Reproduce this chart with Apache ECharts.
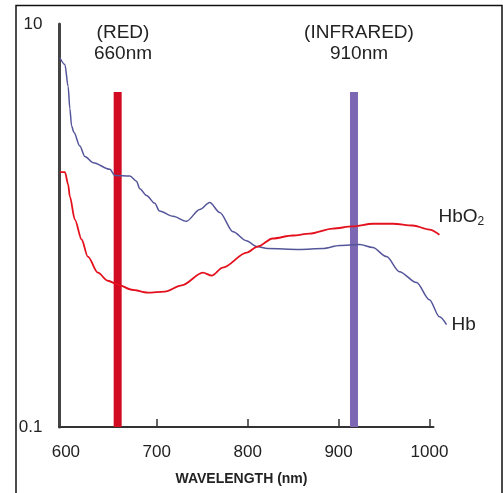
<!DOCTYPE html>
<html><head><meta charset="utf-8">
<script src="https://cdn.jsdelivr.net/npm/echarts@6/dist/echarts.min.js"></script>
<style>html,body{margin:0;padding:0;background:#fff}#c{width:503px;height:493px}</style>
</head><body><div id="c"></div>
<script>
// ---- data ----
const hbWavelength = [593.4, 598.9, 602.5, 604.4, 606.3, 608.8, 615.4, 620.9, 630, 648.4, 653.9, 670.4, 677.7, 681.4, 688.7, 697.8, 703, 717.9, 732.7, 747.3, 758.3, 769.3, 784, 798.6, 810, 822, 857, 882.6, 901.3, 923.3, 937.7, 952.8, 967, 985.8, 1000, 1011, 1018.8];
const hbValues     = [6.8, 6.3, 4.9, 3.8, 3.12, 2.9, 2.48, 2.2, 2.05, 1.9, 1.77, 1.76, 1.66, 1.52, 1.41, 1.29, 1.18, 1.11, 1.05, 1.2, 1.3, 1.16, 0.93, 0.84, 0.786, 0.768, 0.76, 0.768, 0.795, 0.804, 0.777, 0.701, 0.59, 0.521, 0.428, 0.352, 0.322];
const hbo2Wavelength = [593.4, 599, 602.5, 604.4, 609.9, 617.3, 624.2, 635.2, 646.2, 657.2, 672.5, 690.1, 708.8, 727.5, 750.7, 760.5, 772.6, 799, 811, 827.5, 849.5, 868.2, 893.5, 915.5, 937.7, 960, 981.6, 1000, 1011];
const hbo2Values     = [1.84, 1.84, 1.6, 1.39, 1.07, 0.852, 0.70, 0.583, 0.532, 0.509, 0.48, 0.464, 0.47, 0.505, 0.583, 0.564, 0.618, 0.734, 0.786, 0.862, 0.892, 0.912, 0.966, 0.989, 1.02, 1.02, 1.0, 0.955, 0.90];
const xTickLabels = [600, 700, 800, 900, 1000];
const xTickMarks  = [700, 800, 900, 1000];
const yTickLabels = [0.1, 10];
const redBandNm = 657;
const irBandNm  = 917;
const bandExtent = [0.1, 4.6];
const redBandTitle = ['(RED)', '660nm'];
const irBandTitle  = ['(INFRARED)', '910nm'];
const xAxisTitle = 'WAVELENGTH (nm)';
const seriesNames = ['Hb', 'HbO2'];

// ---- chart ----
const FONT = '"Liberation Sans", Arial, sans-serif';
const zip = (xs, ys) => xs.map((x, i) => [x, ys[i]]);
const chart = echarts.init(document.getElementById('c'), null, {renderer: 'canvas'});
const titleStyle = {fontFamily: FONT, fontSize: 19, fontWeight: 'normal', color: '#222', lineHeight: 21};
chart.setOption({
  backgroundColor: '#fff',
  animation: false,
  title: [
    {text: redBandTitle.join('\n'), left: 118, top: 17, textAlign: 'center', textStyle: titleStyle},
    {text: irBandTitle.join('\n'), left: 354, top: 17, textAlign: 'center', textStyle: titleStyle}
  ],
  graphic: [{type: 'rect', shape: {x: 16, y: 5.5, width: 486, height: 520}, style: {fill: 'none', stroke: '#111', lineWidth: 1.5}, silent: true}],
  grid: [
    {left: 59.5, top: 24, width: 374, height: 403},
    {left: 59.5, top: 24, width: 388.1, height: 403}
  ],
  xAxis: [
    {gridIndex: 0, type: 'value', min: 593, max: 1004.4,
     axisLine: {show: true, lineStyle: {color: '#333', width: 2}},
     axisTick: {show: true, inside: true, length: 8, customValues: xTickMarks, lineStyle: {color: '#333', width: 1.5}},
     axisLabel: {customValues: xTickLabels, margin: 17, fontFamily: FONT, fontSize: 17, color: '#222', formatter: v => String(v)},
     splitLine: {show: false},
     name: xAxisTitle, nameLocation: 'middle', nameGap: 45,
     nameTextStyle: {fontFamily: FONT, fontSize: 14, fontWeight: 'bold', color: '#222', padding: [0, 10, 0, 0]}},
    {gridIndex: 1, type: 'value', min: 593, max: 1020, show: false}
  ],
  yAxis: [
    {gridIndex: 0, type: 'log', logBase: 10, min: 0.1, max: 10,
     axisLine: {show: true, lineStyle: {color: '#444', width: 3}},
     axisTick: {show: false},
     axisLabel: {margin: 17, fontFamily: FONT, fontSize: 17, color: '#222',
       formatter: v => yTickLabels.some(t => Math.abs(t - v) < 1e-6) ? String(v) : ''},
     splitLine: {show: false}},
    {gridIndex: 1, type: 'log', logBase: 10, min: 0.1, max: 10, show: false}
  ],
  series: [
    {type: 'line', xAxisIndex: 1, yAxisIndex: 1, data: [[redBandNm, bandExtent[0]], [redBandNm, bandExtent[1]]],
     showSymbol: false, symbol: 'none', lineStyle: {color: '#d20a22', width: 8, cap: 'butt'}, z: 1, silent: true},
    {type: 'line', xAxisIndex: 1, yAxisIndex: 1, data: [[irBandNm, bandExtent[0]], [irBandNm, bandExtent[1]]],
     showSymbol: false, symbol: 'none', lineStyle: {color: '#7c68b2', width: 8, cap: 'butt'}, z: 1, silent: true},
    {name: seriesNames[0], type: 'line', xAxisIndex: 1, yAxisIndex: 1, data: zip(hbWavelength, hbValues),
     symbol: 'none', smooth: 0.3, smoothMonotone: 'x', lineStyle: {color: '#55559a', width: 1.5}, z: 3,
     endLabel: {show: true, formatter: 'Hb', distance: 5, fontFamily: FONT, fontSize: 19, color: '#222'}},
    {name: seriesNames[1], type: 'line', xAxisIndex: 1, yAxisIndex: 1, data: zip(hbo2Wavelength, hbo2Values),
     symbol: 'none', smooth: 0.3, smoothMonotone: 'x', lineStyle: {color: '#e3111d', width: 1.8}, z: 3,
     endLabel: {show: true, formatter: '{a|HbO}{b|2}', distance: 5, offset: [-6, -18],
       rich: {a: {fontFamily: FONT, fontSize: 19, color: '#222'},
              b: {fontFamily: FONT, fontSize: 12, color: '#222', lineHeight: 12, padding: [10, 0, 0, 0]}}}}
  ]
});
</script></body></html>
